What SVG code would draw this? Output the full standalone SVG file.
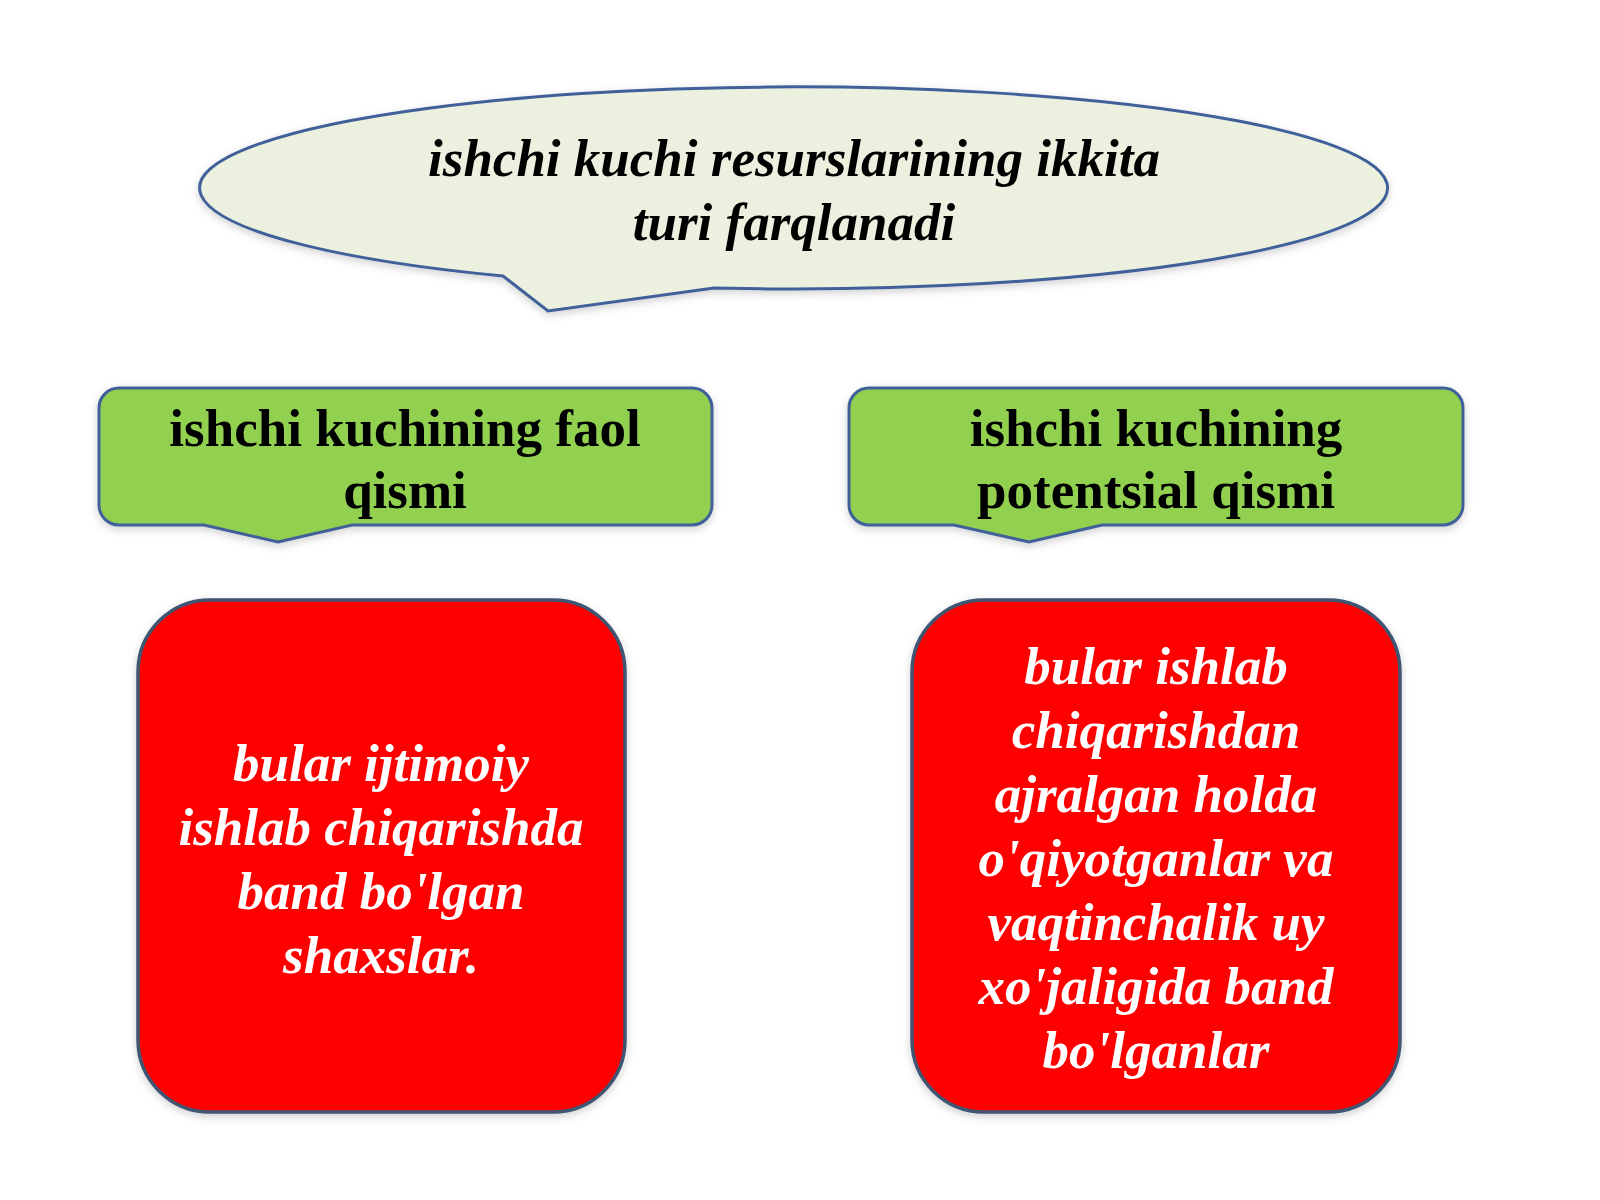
<svg xmlns="http://www.w3.org/2000/svg" width="1600" height="1200" viewBox="0 0 1600 1200">
  <defs>
    <filter id="shadow" x="-10%" y="-10%" width="120%" height="130%">
      <feDropShadow dx="0" dy="3" stdDeviation="4" flood-color="#000000" flood-opacity="0.18"/>
    </filter>
    <style>
      .title { font-family: "Liberation Serif", "Times New Roman", serif; font-weight: bold; font-style: italic; font-size: 53px; fill: #000000; text-anchor: middle; }
      .green { fill: #92D050; stroke: #41609A; stroke-width: 3; filter: url(#shadow); }
      .gtext { font-family: "Liberation Serif", "Times New Roman", serif; font-weight: bold; font-size: 53px; fill: #000000; text-anchor: middle; }
      .red { fill: #FF0000; stroke: #3F5472; stroke-width: 3.5; filter: url(#shadow); }
      .rtext { font-family: "Liberation Serif", "Times New Roman", serif; font-weight: bold; font-style: italic; font-size: 53px; fill: #FFFFFF; text-anchor: middle; }
    </style>
  </defs>
  <rect x="0" y="0" width="1600" height="1200" fill="#FFFFFF"/>

  <g id="callout-title">
    <path d="M503,276 A594,101 0 1 1 714,288 L548,311 Z" fill="#EBF1DE" stroke="#41609A" stroke-width="3" filter="url(#shadow)"/>
    <text class="title" x="794" y="176">ishchi kuchi resurslarining ikkita</text>
    <text class="title" x="794" y="240">turi farqlanadi</text>
  </g>

  <g id="node-faol">
    <path class="green" d="M119,388 H692 A20,20 0 0 1 712,408 V505 A20,20 0 0 1 692,525 H352 L278,542 L204,525 H119 A20,20 0 0 1 99,505 V408 A20,20 0 0 1 119,388 Z"/>
    <text class="gtext" x="405" y="446">ishchi kuchining faol</text>
    <text class="gtext" x="405" y="508">qismi</text>
  </g>

  <g id="node-potentsial">
    <path class="green" d="M869,388 H1443 A20,20 0 0 1 1463,408 V505 A20,20 0 0 1 1443,525 H1102 L1029,542 L954,525 H869 A20,20 0 0 1 849,505 V408 A20,20 0 0 1 869,388 Z"/>
    <text class="gtext" x="1156" y="446">ishchi kuchining</text>
    <text class="gtext" x="1156" y="508">potentsial qismi</text>
  </g>

  <g id="node-faol-desc">
    <rect class="red" x="138" y="600" width="487" height="512" rx="72" ry="72"/>
    <text class="rtext" x="381" y="781">bular ijtimoiy</text>
    <text class="rtext" x="381" y="845">ishlab chiqarishda</text>
    <text class="rtext" x="381" y="909">band bo'lgan</text>
    <text class="rtext" x="381" y="973">shaxslar.</text>
  </g>

  <g id="node-potentsial-desc">
    <rect class="red" x="912" y="600" width="488" height="512" rx="72" ry="72"/>
    <text class="rtext" x="1156" y="684">bular ishlab</text>
    <text class="rtext" x="1156" y="748">chiqarishdan</text>
    <text class="rtext" x="1156" y="812">ajralgan holda</text>
    <text class="rtext" x="1156" y="876">o'qiyotganlar va</text>
    <text class="rtext" x="1156" y="940">vaqtinchalik uy</text>
    <text class="rtext" x="1156" y="1004">xo'jaligida band</text>
    <text class="rtext" x="1156" y="1068">bo'lganlar</text>
  </g>

  <g id="connectors"/>
</svg>
